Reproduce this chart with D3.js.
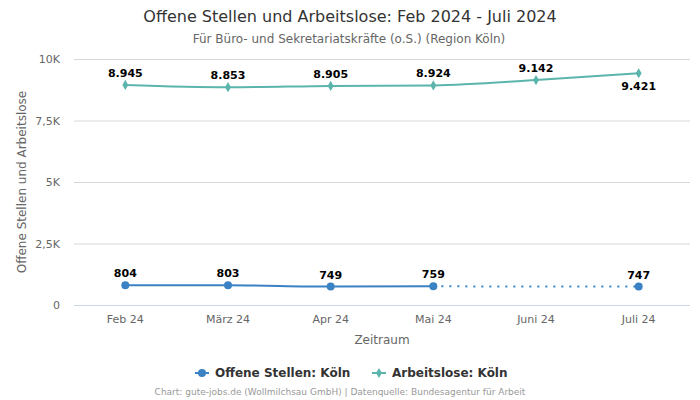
<!DOCTYPE html>
<html><head><meta charset="utf-8">
<script src="https://cdn.jsdelivr.net/npm/d3@7"></script>
<style>body{margin:0;background:#fff;font-family:"DejaVu Sans",sans-serif;}</style>
</head><body><svg id="c" width="700" height="400"></svg>
<script>
const categories = ["Feb 24","März 24","Apr 24","Mai 24","Juni 24","Juli 24"];
const offeneStellen = [804, 803, 749, 759, null, 747];
const arbeitslose = [8945, 8853, 8905, 8924, 9142, 9421];
const yTicks = [0, 2500, 5000, 7500, 10000];
const yTickLabels = ["0","2,5K","5K","7,5K","10K"];
const colBlue = "#3b82c4", colTeal = "#5bb5ad";

const svg = d3.select("#c");
const m = {l:74, r:10, t:59, b:95};
const W = 700, H = 400;
const x = d3.scaleBand().domain(categories).range([m.l, W-m.r]);
const cx = c => x(c) + x.bandwidth()/2;
const y = d3.scaleLinear().domain([0,10000]).range([H-m.b, m.t]);

// title
svg.append("text").attr("x",350).attr("y",22).attr("text-anchor","middle").attr("font-size",16).attr("fill","#333").text("Offene Stellen und Arbeitslose: Feb 2024 - Juli 2024");
svg.append("text").attr("x",349).attr("y",43).attr("text-anchor","middle").attr("font-size",12).attr("fill","#666").text("Für Büro- und Sekretariatskräfte (o.S.) (Region Köln)");

// grid
const yAxis = d3.axisLeft(y).tickValues(yTicks).tickFormat((d,i)=>yTickLabels[i]).tickSize(-(W-m.l-m.r)).tickPadding(14);
const gy = svg.append("g").attr("transform",`translate(${m.l},0)`).call(yAxis);
gy.select(".domain").remove();
gy.selectAll(".tick line").attr("stroke","#d8d8d8");
gy.selectAll(".tick text").attr("font-size",11).attr("fill","#666").attr("font-family","DejaVu Sans, sans-serif");
gy.selectAll(".tick").filter(d=>d===0).select("line").attr("stroke","#ccd6eb");

const xAxis = d3.axisBottom(x).tickSize(0).tickPadding(10);
const gx = svg.append("g").attr("transform",`translate(0,${H-m.b})`).call(xAxis);
gx.select(".domain").remove();
gx.selectAll(".tick text").attr("font-size",11).attr("fill","#666").attr("font-family","DejaVu Sans, sans-serif");

svg.append("text").attr("x",382).attr("y",344).attr("text-anchor","middle").attr("font-size",12).attr("fill","#666").text("Zeitraum");
svg.append("text").attr("transform","translate(26,182) rotate(-90)").attr("text-anchor","middle").attr("font-size",12).attr("fill","#666").text("Offene Stellen und Arbeitslose");

const fmt = v => d3.format(",")(v).replace(/,/g,".");

// Arbeitslose line
const pts2 = categories.map((c,i)=>({c, v:arbeitslose[i]}));
const line = d3.line().x(d=>cx(d.c)).y(d=>y(d.v)).curve(d3.curveMonotoneX);
svg.append("path").datum(pts2).attr("d",line).attr("fill","none").attr("stroke",colTeal).attr("stroke-width",2);
svg.selectAll(".m2").data(pts2).enter().append("path")
  .attr("d", d3.symbol(d3.symbolDiamond, 30)())
  .attr("transform",d=>`translate(${cx(d.c)},${y(d.v)})`).attr("fill",colTeal);
svg.selectAll(".l2").data(pts2).enter().append("text")
  .attr("x",d=>cx(d.c)).attr("y",(d,i)=> i===pts2.length-1 ? y(d.v)+17 : y(d.v)-8)
  .attr("text-anchor","middle").attr("font-size",11).attr("font-weight","bold").attr("fill","#000").text(d=>fmt(d.v));

// Offene Stellen
const pts1 = categories.map((c,i)=>({c, v:offeneStellen[i]}));
const defined = pts1.filter(d=>d.v!==null);
const solid = pts1.slice(0,4);
svg.append("path").datum(solid).attr("d",line).attr("fill","none").attr("stroke",colBlue).attr("stroke-width",2);
const lastSolid = solid[solid.length-1], lastPt = defined[defined.length-1];
svg.append("path").datum([lastSolid,lastPt]).attr("d",d3.line().x(d=>cx(d.c)).y(d=>y(d.v)))
  .attr("fill","none").attr("stroke",colBlue).attr("stroke-width",2).attr("stroke-dasharray","2,6");
svg.selectAll(".m1").data(defined).enter().append("circle")
  .attr("cx",d=>cx(d.c)).attr("cy",d=>y(d.v)).attr("r",4).attr("fill",colBlue);
svg.selectAll(".l1").data(defined).enter().append("text")
  .attr("x",d=>cx(d.c)).attr("y",d=>y(d.v)-8)
  .attr("text-anchor","middle").attr("font-size",11).attr("font-weight","bold").attr("fill","#000").text(d=>fmt(d.v));

// legend
const lg = svg.append("g");
lg.append("line").attr("x1",195).attr("x2",209).attr("y1",373).attr("y2",373).attr("stroke",colBlue).attr("stroke-width",2);
lg.append("circle").attr("cx",202).attr("cy",373).attr("r",4).attr("fill",colBlue);
lg.append("text").attr("x",215).attr("y",377).attr("font-size",12).attr("font-weight","bold").attr("fill","#333").text("Offene Stellen: Köln");
lg.append("line").attr("x1",372).attr("x2",386).attr("y1",373).attr("y2",373).attr("stroke",colTeal).attr("stroke-width",2);
lg.append("path").attr("d",d3.symbol(d3.symbolDiamond,30)()).attr("transform","translate(379,373)").attr("fill",colTeal);
lg.append("text").attr("x",392).attr("y",377).attr("font-size",12).attr("font-weight","bold").attr("fill","#333").text("Arbeitslose: Köln");

svg.append("text").attr("x",340).attr("y",395).attr("text-anchor","middle").attr("font-size",9).attr("fill","#999").text("Chart: gute-jobs.de (Wollmilchsau GmbH) | Datenquelle: Bundesagentur für Arbeit");
</script></body></html>
